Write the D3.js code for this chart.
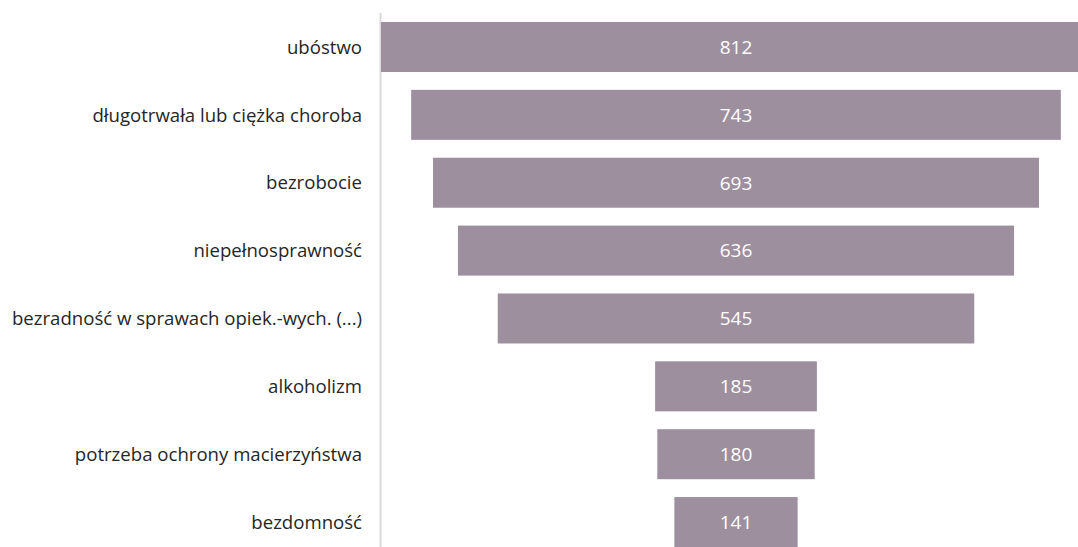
<!DOCTYPE html>
<html><head><meta charset="utf-8">
<script src="https://cdn.jsdelivr.net/npm/d3@7"></script>
<style>html,body{margin:0;padding:0;background:#fff;overflow:hidden}</style>
</head><body>
<svg id="c" width="1078" height="547"></svg>
<script>
const categories = ["ubóstwo","długotrwała lub ciężka choroba","bezrobocie","niepełnosprawność","bezradność w sprawach opiek.-wych. (...)","alkoholizm","potrzeba ochrony macierzyństwa","bezdomność"];
const values = [812,743,693,636,545,185,180,141];

const svg = d3.select("#c");
const maxV = d3.max(values);
const x = d3.scaleLinear().domain([-maxV/2, maxV/2]).range([381, 1091]);
const y = d3.scaleBand().domain(categories).range([13.07, 556]).paddingInner(0.263).paddingOuter(0.1316);
const font = "'Open Sans', sans-serif";

svg.append("line").attr("x1",380.5).attr("x2",380.5).attr("y1",13).attr("y2",547)
  .attr("stroke","#d9d9d9").attr("stroke-width",2);

svg.selectAll("rect.bar").data(values).join("rect").attr("class","bar")
  .attr("x",d=>x(-d/2)).attr("width",d=>x(d/2)-x(-d/2))
  .attr("y",(d,i)=>y(categories[i])).attr("height",y.bandwidth())
  .attr("fill","#9e8f9f");

svg.selectAll("text.val").data(values).join("text").attr("class","val")
  .attr("x",x(0)).attr("y",(d,i)=>y(categories[i])+y.bandwidth()/2)
  .attr("dy","0.36em").attr("text-anchor","middle")
  .attr("fill","#ffffff").attr("font-family",font).attr("font-size",19)
  .text(d=>d);

svg.selectAll("text.cat").data(categories).join("text").attr("class","cat")
  .attr("x",362).attr("y",d=>y(d)+y.bandwidth()/2)
  .attr("dy","0.36em").attr("text-anchor","end")
  .attr("fill","#262626").attr("font-family",font).attr("font-size",18.6)
  .text(d=>d);
</script>
</body></html>
